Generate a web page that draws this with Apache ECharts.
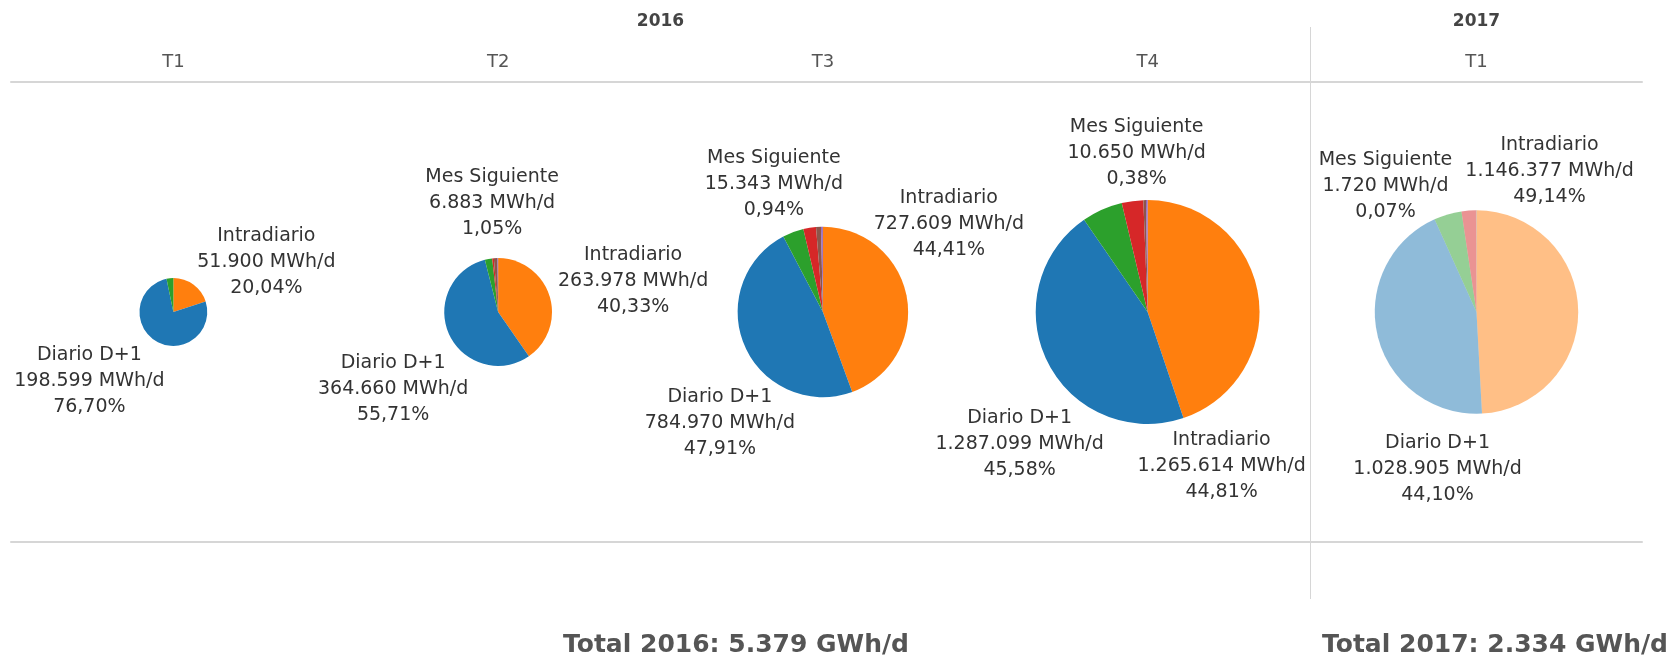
<!DOCTYPE html>
<html>
<head>
<meta charset="utf-8">
<title>Volumen negociado por producto</title>
<script src="https://cdn.jsdelivr.net/npm/echarts@6/dist/echarts.min.js"></script>
<style>
html, body { margin: 0; padding: 0; background: #fff; }
#main { width: 1677px; height: 658px; }
</style>
</head>
<body>
<div id="main"></div>
<script>
// quarters shown, grouped by year
const quarters2016 = ['T1', 'T2', 'T3', 'T4'];
const quarters2017 = ['T1'];

const categories = ['Intradiario', 'Diario D+1', 'Fin de Semana', 'Resto de Mes', 'Mes Siguiente', 'Otros'];

// MWh/d, in order: 2016 T1, T2, T3, T4, 2017 T1
const intradiario  = [51900, 263978, 727609, 1265614, 1146377];
const diario       = [198599, 364660, 784970, 1287099, 1028905];
const finSemana    = [8430, 14400, 65537, 166606, 102650];
const restoMes     = [0, 3273, 39322, 87539, 52900];
const mesSiguiente = [0, 6883, 15343, 10650, 1720];
const otros        = [0, 1374, 5645, 6602, 448];

const totals = ['Total 2016: 5.379 GWh/d', 'Total 2017: 2.334 GWh/d'];

// only these get a label
const labelled = ['Intradiario', 'Diario D+1', 'Mes Siguiente'];

const colors = ['#ff7f0e', '#1f77b4', '#2ca02c', '#d62728', '#8c564b', '#9467bd'];
const radiusScale = 0.0666; // px per sqrt(MWh/d)

// label centre relative to its pie centre (px)
const labelOffsets = [
  {'Intradiario': [93, -50], 'Diario D+1': [-84, 69]},
  {'Intradiario': [135, -31], 'Diario D+1': [-105, 77], 'Mes Siguiente': [-6, -109]},
  {'Intradiario': [126, -88], 'Diario D+1': [-103, 111], 'Mes Siguiente': [-49, -128]},
  {'Intradiario': [74, 154], 'Diario D+1': [-128, 132], 'Mes Siguiente': [-11, -159]},
  {'Intradiario': [73, -141], 'Diario D+1': [-39, 157], 'Mes Siguiente': [-91, -126]}
];

const values = [intradiario, diario, finSemana, restoMes, mesSiguiente, otros];

function fmtNum(v) {
  return Math.round(v).toString().replace(/\B(?=(\d{3})+(?!\d))/g, '.');
}

const lineColor = '#d6d6d6';
const axisCommon = {
  type: 'category',
  axisTick: {show: false},
  axisLine: {onZero: false, lineStyle: {color: lineColor, width: 2}}
};
const headLabel = {color: '#555', fontSize: 18, fontFamily: 'DejaVu Sans', margin: 11};
const yearStyle = {color: '#444', fontSize: 17, fontWeight: 'bold', fontFamily: 'DejaVu Sans'};
const totalStyle = {color: '#555', fontSize: 25, fontWeight: 'bold', fontFamily: 'DejaVu Sans'};

const chart = echarts.init(document.getElementById('main'));

chart.setOption({
  animation: false,
  grid: [
    {left: 11, right: 367, top: 82, bottom: 116},
    {left: 1311, right: 35, top: 82, bottom: 116}
  ],
  xAxis: [
    Object.assign({}, axisCommon, {
      gridIndex: 0, position: 'top', data: quarters2016, axisLabel: headLabel,
      name: '2016', nameLocation: 'middle', nameGap: 52, nameTextStyle: yearStyle
    }),
    Object.assign({}, axisCommon, {
      gridIndex: 0, position: 'bottom', data: quarters2016, axisLabel: {show: false}
    }),
    Object.assign({}, axisCommon, {
      gridIndex: 1, position: 'top', data: quarters2017, axisLabel: headLabel,
      name: '2017', nameLocation: 'middle', nameGap: 52, nameTextStyle: yearStyle
    }),
    Object.assign({}, axisCommon, {
      gridIndex: 1, position: 'bottom', data: quarters2017, axisLabel: {show: false}
    })
  ],
  yAxis: [
    {gridIndex: 0, type: 'value', min: 0, max: 1, show: false},
    {gridIndex: 1, type: 'value', min: 0, max: 1, show: false}
  ],
  title: [
    {text: totals[0], left: 736, top: 633, padding: 0, textAlign: 'center', textStyle: totalStyle},
    {text: totals[1], left: 1495, top: 633, padding: 0, textAlign: 'center', textStyle: totalStyle}
  ],
  graphic: [
    {type: 'line', shape: {x1: 1310.5, y1: 27, x2: 1310.5, y2: 599},
     style: {stroke: lineColor, lineWidth: 1}}
  ]
});

// pie centres from the quarter axes
const slots = [];
quarters2016.forEach(q => slots.push({axis: 0, yAxis: 0, q: q, faded: false}));
quarters2017.forEach(q => slots.push({axis: 2, yAxis: 1, q: q, faded: true}));

const series = slots.map((s, i) => {
  const cx = chart.convertToPixel({xAxisIndex: s.axis}, s.q);
  const cy = chart.convertToPixel({yAxisIndex: s.yAxis}, 0.5);
  const vals = values.map(arr => arr[i]);
  const sum = vals.reduce((a, b) => a + b, 0);
  const offs = labelOffsets[i];
  return {
    type: 'pie',
    center: [cx, cy],
    radius: radiusScale * Math.sqrt(sum),
    startAngle: 90,
    clockwise: true,
    avoidLabelOverlap: false,
    emphasis: {disabled: true},
    labelLine: {show: false},
    label: {
      position: 'outside',
      color: '#333',
      fontSize: 19,
      lineHeight: 26,
      fontFamily: 'DejaVu Sans',
      align: 'center',
      formatter: p => p.name + '\n' + fmtNum(p.value) + ' MWh/d\n' +
        (p.value / sum * 100).toFixed(2).replace('.', ',') + '%'
    },
    labelLayout: p => {
      const off = offs[categories[p.dataIndex]];
      if (!off) return {};
      return {x: cx + off[0], y: cy + off[1], align: 'center', verticalAlign: 'middle'};
    },
    data: categories.map((c, k) => ({
      name: c,
      value: vals[k],
      // 2017 is drawn faded
      itemStyle: {color: s.faded ? echarts.color.modifyAlpha(colors[k], 0.5) : colors[k]},
      label: {show: labelled.includes(c) && vals[k] > 0}
    }))
  };
});

chart.setOption({series: series});
window.addEventListener('resize', () => chart.resize());
</script>
</body>
</html>
